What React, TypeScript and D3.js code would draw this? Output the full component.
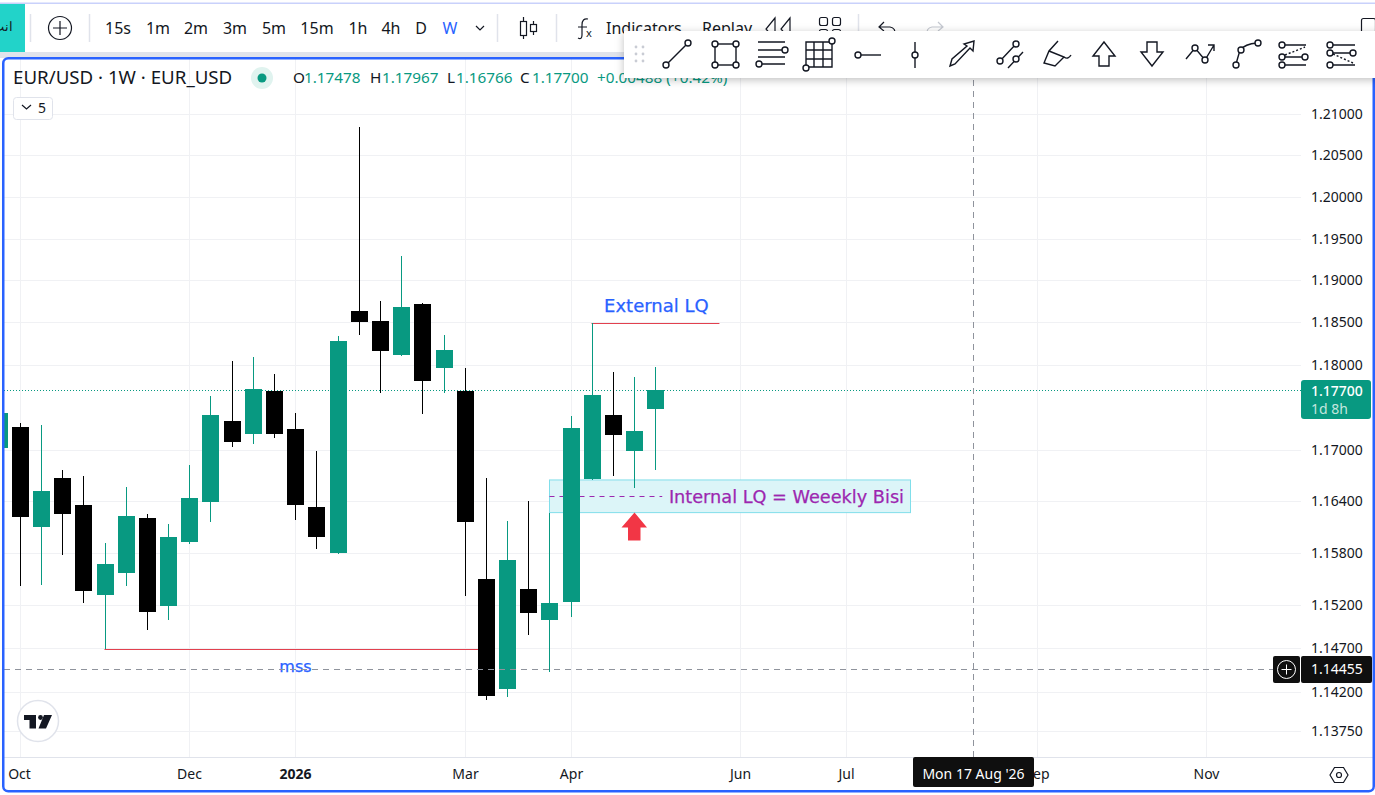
import * as d3 from 'd3';

// weekly candles, first entry is the one clipped at the left edge (index -1)
const opens = [1.17021, 1.17267, 1.16102, 1.1667, 1.16354, 1.15312, 1.15569, 1.16203, 1.15186, 1.15928, 1.16392, 1.17337, 1.17188, 1.1769, 1.17243, 1.16331, 1.15797, 1.18638, 1.18519, 1.18116, 1.18721, 1.17962, 1.1769, 1.15495, 1.14233, 1.15379, 1.15025, 1.15231, 1.16661, 1.17407, 1.16989, 1.17478];
const closes = [1.17431, 1.16218, 1.16517, 1.16253, 1.15358, 1.1567, 1.16226, 1.15117, 1.15983, 1.16435, 1.17407, 1.17095, 1.17713, 1.17188, 1.16357, 1.15986, 1.18282, 1.18507, 1.18164, 1.18685, 1.17812, 1.18175, 1.1616, 1.14152, 1.15716, 1.15105, 1.15217, 1.17255, 1.17642, 1.17177, 1.1722, 1.177];
const highs = [1.17454, 1.17314, 1.1729, 1.16763, 1.16693, 1.15913, 1.16564, 1.1625, 1.16134, 1.16822, 1.1763, 1.18045, 1.18093, 1.17891, 1.17431, 1.16986, 1.18341, 1.20843, 1.18756, 1.19293, 1.18732, 1.18353, 1.17962, 1.1667, 1.16168, 1.164, 1.16261, 1.17396, 1.18492, 1.17915, 1.17856, 1.17967];
const lows = [1.17009, 1.15418, 1.15429, 1.15777, 1.1522, 1.14685, 1.15418, 1.1491, 1.15025, 1.15905, 1.1616, 1.17036, 1.17071, 1.17141, 1.16183, 1.15847, 1.15786, 1.18357, 1.17669, 1.18104, 1.17423, 1.17669, 1.15301, 1.14106, 1.14141, 1.14853, 1.14428, 1.15059, 1.16646, 1.16697, 1.16556, 1.16766];

const priceTicks = [1.21, 1.205, 1.2, 1.195, 1.19, 1.185, 1.18, 1.17, 1.164, 1.158, 1.152, 1.147, 1.142, 1.1375];
const timeLabels = ['Oct', 'Dec', '2026', 'Mar', 'Apr', 'Jun', 'Jul', 'Sep', 'Nov'];
const timeIndexes = [0, 8, 13, 21, 26, 34, 39, 48, 56];

const lastPrice = 1.177;
const crossPrice = 1.14455;
const crossIndex = 45;
const mssPrice = 1.14685;
const externalPrice = 1.18492;
const bisiTop = 1.16646;
const bisiBottom = 1.16265;
const bisiMid = 1.16453;

const intervals: [string, number][] = [['15s', 118], ['1m', 158], ['2m', 196], ['3m', 235], ['5m', 274], ['15m', 317], ['1h', 358], ['4h', 391], ['D', 421]];

const UP = '#089981';
const DOWN = '#000000';
const BLUE = '#2962ff';
const RED = '#f23645';
const PURPLE = '#9c27b0';
const GRID = '#f0f1f4';
const INK = '#131722';
const FONT = '"DejaVu Sans", sans-serif';
const UI = '"Noto Sans", sans-serif';

const x = d3.scaleLinear().domain([0, 30]).range([20.33, 655.88]);
const y = d3.scaleLog().domain([1.21, 1.1375]).range([114, 731]);
const px = (i: number) => Math.floor(x(i)) + 0.5;

function Knob({ cx, cy }: { cx: number; cy: number }) {
  return <circle cx={cx} cy={cy} r={3} fill="#fff" stroke={INK} strokeWidth={1.4} />;
}

// drawing tools row, each icon in a box around its centre
function ToolIcon({ cx, kind }: { cx: number; kind: number }) {
  const s = { fill: 'none', stroke: INK, strokeWidth: 1.4 };
  const icons = [
    <g key="0"><path d="M-10 10L10 -10" {...s} /><Knob cx={-11} cy={11} /><Knob cx={11} cy={-11} /></g>,
    <g key="1"><rect x={-10} y={-10} width={21} height={21} {...s} /><Knob cx={-10} cy={-10} /><Knob cx={11} cy={-10} /><Knob cx={-10} cy={11} /><Knob cx={11} cy={11} /></g>,
    <g key="2"><path d="M-13 -12H14M-13 -4H12M-13 3H14M-9 10H14" {...s} /><Knob cx={14} cy={-4} /><Knob cx={-12} cy={10} /></g>,
    <g key="3"><path d="M-13 -12H13V13H-13ZM-13 -4H13M-13 5H13M-5 -12V13M4 -12V13" {...s} /><Knob cx={13} cy={-13} /><Knob cx={-13} cy={14} /></g>,
    <g key="4"><path d="M-10 1H13" {...s} /><Knob cx={-10} cy={1} /></g>,
    <g key="5"><path d="M0 -12V14" {...s} /><Knob cx={0} cy={1} /></g>,
    <g key="6"><path d="M-12 12L-10 5L5 -8L2 -10L12 -13L11 -3L8 -6L-7 10Z" {...s} /></g>,
    <g key="7"><path d="M-10 7L6 -10M-2 14L13 -2" {...s} /><Knob cx={-10} cy={7} /><Knob cx={6} cy={-10} /><Knob cx={6} cy={5} /></g>,
    <g key="8"><path d="M1 -13L-8 -3L-13 9L-2 12L7 3L-8 -3M7 3Q11 6 14 1" {...s} /></g>,
    <g key="9"><path d="M0 -12L11 2H5V12H-5V2H-11Z" {...s} /></g>,
    <g key="10"><path d="M0 12L11 -2H5V-12H-5V-2H-11Z" {...s} /></g>,
    <g key="11"><path d="M-14 5L-5 -6L5 6L14 -9M8 -9H14V-3" {...s} /><Knob cx={-5} cy={-6} /><Knob cx={5} cy={6} /></g>,
    <g key="12"><path d="M-11 10L-7 -4Q-2 -10 10 -11" {...s} /><Knob cx={-11} cy={11} /><Knob cx={-6} cy={-4} /><Knob cx={11} cy={-11} /></g>,
    <g key="13"><path d="M-11 -9H13M-11 3H12M-11 11H13" {...s} /><path d="M-8 1L12 -7" {...s} strokeDasharray="2 2" /><Knob cx={-11} cy={-9} /><Knob cx={-11} cy={3} /><Knob cx={12} cy={3} /><Knob cx={-11} cy={11} /></g>,
    <g key="14"><path d="M-10 -9H15M-10 -1H13M-10 11H15" {...s} /><path d="M-7 0L13 9" {...s} strokeDasharray="2 2" /><Knob cx={-10} cy={-9} /><Knob cx={-10} cy={-1} /><Knob cx={13} cy={-1} /><Knob cx={-10} cy={11} /></g>,
  ];
  return <g transform={`translate(${cx},54)`}>{icons[kind]}</g>;
}

const toolCentres = [677, 725, 771, 819, 868, 915, 962, 1010, 1057, 1104, 1152, 1200, 1247, 1293, 1340];

export default function App() {
  const lastY = Math.round(y(lastPrice)) + 0.5;
  const crossY = Math.round(y(crossPrice)) + 0.5;
  const crossX = px(crossIndex);
  const arrowX = px(29);
  const arrowY = y(bisiBottom);

  return (
    <svg width={1375} height={795} style={{ position: 'fixed', left: 0, top: 0, background: '#fff' }}>
      <defs>
        <clipPath id="pane"><rect x={4} y={58} width={1297} height={699} /></clipPath>
        <filter id="shadow" x="-5%" y="-30%" width="110%" height="170%">
          <feDropShadow dx={0} dy={2} stdDeviation={4} floodColor="#000" floodOpacity={0.25} />
        </filter>
      </defs>

      {/* top toolbar */}
      <rect x={0} y={2.5} width={1375} height={1.5} fill="#c9d1fb" />
      <rect x={0} y={52} width={1375} height={6} fill="#e0e3eb" />
      <rect x={0} y={4} width={25} height={48} fill="#22d3c9" />
      <text x={13} y={31} textAnchor="end" fontFamily="'Noto Sans', sans-serif" fontSize={13} fontWeight={500} fill={INK}>انت</text>
      {[30.5, 89.5, 497.5, 556.5, 858.5].map((v) => (
        <line key={v} x1={v} x2={v} y1={14} y2={42} stroke="#e0e3eb" strokeWidth={1.5} />
      ))}
      <circle cx={60} cy={28} r={11.5} fill="none" stroke={INK} strokeWidth={1.2} />
      <path d="M60 21V35M53 28H67" stroke={INK} strokeWidth={1.2} />
      {intervals.map(([label, cx]) => (
        <text key={label} x={cx} y={34} textAnchor="middle" fontFamily={UI} fontSize={16} fill={INK}>{label}</text>
      ))}
      <text x={450} y={34} textAnchor="middle" fontFamily={UI} fontSize={16} fill={BLUE}>W</text>
      <path d="M476 26L480 30L484 26" fill="none" stroke={INK} strokeWidth={1.2} />
      <path d="M523.5 17V39M533.5 21V35" stroke={INK} strokeWidth={1.2} />
      <rect x={520.5} y={21.5} width={6} height={14} fill="#fff" stroke={INK} strokeWidth={1.2} />
      <rect x={530.5} y={24.5} width={6} height={7} fill="#fff" stroke={INK} strokeWidth={1.2} />
      <path d="M588 19Q582 18 582 25V35Q582 40 578 38M578 27H587" fill="none" stroke={INK} strokeWidth={1.2} />
      <text x={586} y={37} fontFamily={UI} fontSize={11} fill={INK}>x</text>
      <text x={606} y={34} fontFamily={UI} fontSize={16} fill={INK}>Indicators</text>
      <text x={702} y={34} fontFamily={UI} fontSize={16} fill={INK}>Replay</text>
      <path d="M775 18L766 29L775 40ZM790 18L781 29L790 40Z" fill="none" stroke={INK} strokeWidth={1.2} />
      <rect x={819.5} y={17.5} width={8} height={8} rx={2} fill="none" stroke={INK} strokeWidth={1.2} />
      <rect x={832.5} y={17.5} width={8} height={8} rx={2} fill="none" stroke={INK} strokeWidth={1.2} />
      <rect x={819.5} y={29.5} width={8} height={8} rx={2} fill="none" stroke={INK} strokeWidth={1.2} />
      <rect x={832.5} y={29.5} width={8} height={8} rx={2} fill="none" stroke={INK} strokeWidth={1.2} />
      <path d="M884 22L879 27L884 31M879 27H890Q896 28 895 35" fill="none" stroke={INK} strokeWidth={1.2} />
      <path d="M938 22L943 27L938 31M943 27H932Q926 28 927 35" fill="none" stroke="#c4c8d0" strokeWidth={1.2} />
      <rect x={1361.5} y={18.5} width={14} height={16} rx={2} fill="none" stroke={INK} strokeWidth={1.2} />

      {/* grid */}
      {priceTicks.map((t) => (
        <line key={t} x1={4} x2={1301} y1={Math.round(y(t)) + 0.5} y2={Math.round(y(t)) + 0.5} stroke={GRID} />
      ))}
      {timeIndexes.map((t) => (
        <line key={t} x1={px(t)} x2={px(t)} y1={58} y2={757} stroke={GRID} />
      ))}

      <g clipPath="url(#pane)">
        {/* drawings sit under the candles */}
        <rect
          x={px(25)}
          y={y(bisiTop)}
          width={px(42) - px(25)}
          height={y(bisiBottom) - y(bisiTop)}
          fill="#dcf5f8"
          stroke="#80deea"
          strokeWidth={1}
        />
        <line x1={px(25)} x2={x(30.3)} y1={Math.round(y(bisiMid)) + 0.5} y2={Math.round(y(bisiMid)) + 0.5} stroke={PURPLE} strokeDasharray="5 5" />
        <line x1={px(4) - 1} x2={px(22)} y1={Math.round(y(mssPrice)) + 0.5} y2={Math.round(y(mssPrice)) + 0.5} stroke="#e2404e" />
        <line x1={px(27) - 1} x2={x(33)} y1={Math.round(y(externalPrice)) + 0.5} y2={Math.round(y(externalPrice)) + 0.5} stroke="#e2404e" />
        <line x1={4} x2={1301} y1={lastY} y2={lastY} stroke={UP} strokeDasharray="1 2" />

        {/* candles */}
        {opens.map((o, i) => {
          const c = closes[i];
          const color = c >= o ? UP : DOWN;
          const cx = px(i - 1);
          const top = Math.round(y(Math.max(o, c)));
          const bottom = Math.round(y(Math.min(o, c)));
          return (
            <g key={i}>
              <line x1={cx} x2={cx} y1={Math.round(y(highs[i]))} y2={Math.round(y(lows[i]))} stroke={color} />
              <rect x={cx - 8.5} y={top} width={17} height={bottom - top} fill={color} />
            </g>
          );
        })}

        {/* annotations */}
        <text x={x(30) + 0.5} y={y(externalPrice) - 11} textAnchor="middle" fontFamily={FONT} fontSize={18} fill={BLUE} stroke={BLUE} strokeWidth={0.25}>External LQ</text>
        <text x={x(30) + 13} y={y(bisiMid) + 6.5} fontFamily={FONT} fontSize={17.7} fill={PURPLE} stroke={PURPLE} strokeWidth={0.25}>Internal LQ = Weeekly Bisi</text>
        <text x={px(13)} y={y(crossPrice) + 3} textAnchor="middle" fontFamily={FONT} fontSize={16} fill={BLUE} stroke={BLUE} strokeWidth={0.25}>mss</text>
        <path
          d={`M${arrowX} ${arrowY}l12.5 15h-6.5v13h-12.5v-13h-6.5z`}
          fill={RED}
        />

        {/* crosshair */}
        <line x1={4} x2={1273} y1={crossY} y2={crossY} stroke="#8f939c" strokeDasharray="6 5" />
        <line x1={crossX} x2={crossX} y1={58} y2={757} stroke="#8f939c" strokeDasharray="6 5" />
      </g>

      {/* legend */}
      <text x={13} y={84} fontFamily={UI} fontSize={18.7} fill={INK}>EUR/USD · 1W · EUR_USD</text>
      <circle cx={262} cy={78} r={11} fill="#e0f3ef" />
      <circle cx={262} cy={78} r={4.5} fill={UP} />
      <g fontFamily={UI} fontSize={15.3}>
        <text x={293} y={83} fill={INK}>O</text>
        <text x={304} y={83} fill={UP}>1.17478</text>
        <text x={370} y={83} fill={INK}>H</text>
        <text x={382} y={83} fill={UP}>1.17967</text>
        <text x={447} y={83} fill={INK}>L</text>
        <text x={456} y={83} fill={UP}>1.16766</text>
        <text x={520} y={83} fill={INK}>C</text>
        <text x={532} y={83} fill={UP}>1.17700</text>
        <text x={597} y={83} fill={UP}>+0.00488 (+0.42%)</text>
      </g>
      <rect x={13.5} y={97.5} width={39} height={22} rx={3} fill="#fff" stroke="#e0e3eb" />
      <path d="M22 105L26.5 109L31 105" fill="none" stroke={INK} strokeWidth={1.2} />
      <text x={38} y={113} fontFamily={UI} fontSize={14} fill={INK}>5</text>

      {/* watermark logo */}
      <circle cx={38} cy={721} r={20.5} fill="#fff" stroke="#e0e3eb" strokeWidth={1.5} />
      <path d="M24 715H36V728.5H29.5V720H24ZM44 715H52L46 728.5H38.5Z" fill={INK} />
      <circle cx={40.5} cy={717.5} r={2.4} fill={INK} />

      {/* price axis */}
      {priceTicks.map((t) => (
        <text key={t} x={1311} y={y(t) + 5} fontFamily={UI} fontSize={14} fill={INK}>{t.toFixed(5)}</text>
      ))}
      <rect x={1301} y={380} width={70} height={39} rx={3} fill={UP} />
      <text x={1311} y={396} fontFamily={UI} fontSize={14} fontWeight={500} fill="#fff">{lastPrice.toFixed(5)}</text>
      <text x={1311} y={414} fontFamily={UI} fontSize={14} fill="#c3e6df">1d 8h</text>
      <rect x={1273} y={656} width={27} height={27} rx={2} fill="#0f0f0f" />
      <circle cx={1286.5} cy={669.5} r={9} fill="none" stroke="#fff" />
      <path d="M1286.5 664.5V674.5M1281.5 669.5H1291.5" stroke="#fff" />
      <rect x={1301} y={656} width={71} height={27} rx={2} fill="#0f0f0f" />
      <text x={1311} y={674} fontFamily={UI} fontSize={14} fill="#fff">{crossPrice.toFixed(5)}</text>

      {/* time axis */}
      <line x1={4} x2={1373} y1={757.5} y2={757.5} stroke="#e0e3eb" />
      {timeLabels.map((t, i) => (
        <text
          key={t}
          x={timeIndexes[i] === 0 ? px(0) - 1 : px(timeIndexes[i])}
          y={779}
          textAnchor="middle"
          fontFamily={UI}
          fontSize={14}
          fontWeight={t === '2026' ? 700 : 400}
          fill={INK}
        >
          {t}
        </text>
      ))}
      <rect x={913} y={757} width={121} height={30} rx={2} fill="#0f0f0f" />
      <text x={973.5} y={779} textAnchor="middle" fontFamily={UI} fontSize={14} fill="#fff">Mon 17 Aug '26</text>
      <path d="M1330 775L1334.5 767.5H1343.5L1348 775L1343.5 782.5H1334.5Z" fill="none" stroke={INK} strokeWidth={1.2} />
      <circle cx={1339} cy={775} r={2.5} fill="none" stroke={INK} strokeWidth={1.2} />

      {/* pane border */}
      <rect x={3.25} y={58.25} width={1370.5} height={733} rx={5} fill="none" stroke={BLUE} strokeWidth={2.5} />
      <rect x={1372} y={52} width={3} height={26} fill="#fff" />

      {/* floating drawing toolbar */}
      <rect x={624} y={31} width={760} height={47} fill="#fff" filter="url(#shadow)" />
      {[0, 1].map((col) =>
        [0, 1, 2].map((row) => (
          <circle key={`${col}${row}`} cx={636 + col * 7} cy={47 + row * 7} r={1.4} fill="#c9ccd4" />
        )),
      )}
      {toolCentres.map((cx, i) => (
        <ToolIcon key={cx} cx={cx} kind={i} />
      ))}
    </svg>
  );
}
